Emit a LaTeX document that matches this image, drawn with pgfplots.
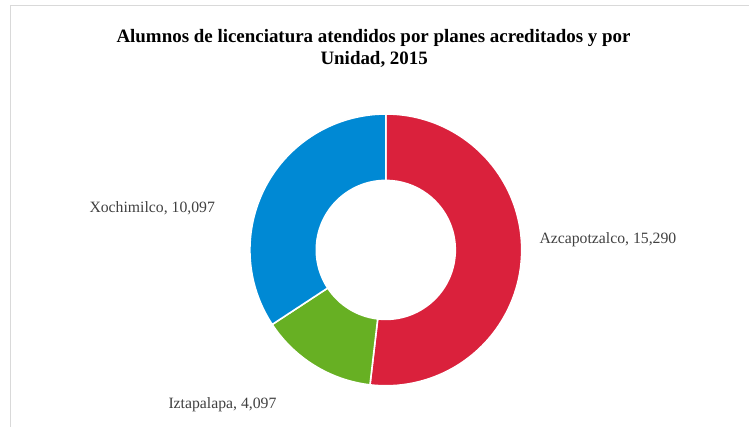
\documentclass[border=0pt]{standalone}
\usepackage{pgfplots}
\usepackage{pgfplotstable}
\pgfplotsset{compat=1.18}
\usepackage{fontspec}
\setmainfont{Liberation Serif}
\definecolor{cRed}{RGB}{218,33,60}
\definecolor{cGreen}{RGB}{103,176,35}
\definecolor{cBlue}{RGB}{0,137,212}
\definecolor{lblgray}{RGB}{64,64,64}
\definecolor{framegray}{RGB}{217,217,217}

\pgfplotstableread{
name value
Azcapotzalco 15290
Iztapalapa 4097
Xochimilco 10097
}\datatable
\pgfplotstablegetelem{0}{value}\of\datatable \let\vA\pgfplotsretval
\pgfplotstablegetelem{1}{value}\of\datatable \let\vB\pgfplotsretval
\pgfplotstablegetelem{2}{value}\of\datatable \let\vC\pgfplotsretval
\pgfmathsetmacro{\tot}{\vA/1000+\vB/1000+\vC/1000}
\pgfmathsetmacro{\aA}{90}
\pgfmathsetmacro{\aB}{\aA-360*(\vA/1000)/\tot}
\pgfmathsetmacro{\aC}{\aB-360*(\vB/1000)/\tot}
\pgfmathsetmacro{\aD}{\aC-360*(\vC/1000)/\tot}
\def\cx{385.8}
\def\cy{177.1}
\def\Ro{135.9}
\def\Ri{69.5}
\pgfmathsetmacro{\xAo}{\cx+\Ro*cos(\aA)}\pgfmathsetmacro{\yAo}{\cy+\Ro*sin(\aA)}
\pgfmathsetmacro{\xBo}{\cx+\Ro*cos(\aB)}\pgfmathsetmacro{\yBo}{\cy+\Ro*sin(\aB)}
\pgfmathsetmacro{\xCo}{\cx+\Ro*cos(\aC)}\pgfmathsetmacro{\yCo}{\cy+\Ro*sin(\aC)}
\pgfmathsetmacro{\xBi}{\cx+\Ri*cos(\aB)}\pgfmathsetmacro{\yBi}{\cy+\Ri*sin(\aB)}
\pgfmathsetmacro{\xCi}{\cx+\Ri*cos(\aC)}\pgfmathsetmacro{\yCi}{\cy+\Ri*sin(\aC)}
\pgfmathsetmacro{\xDi}{\cx+\Ri*cos(\aD)}\pgfmathsetmacro{\yDi}{\cy+\Ri*sin(\aD)}

\begin{document}
\begin{tikzpicture}
\begin{axis}[
  width=749bp, height=427bp, scale only axis,
  xmin=0, xmax=749, ymin=0, ymax=427,
  hide axis, clip=false]
\path (axis cs:0,0) rectangle (axis cs:749,427);
\begin{scope}
\clip (axis cs:0,0) rectangle (axis cs:749,427);
\draw[framegray, line width=1.2bp] (axis cs:10.8,-5) -- (axis cs:10.8,421.4) -- (axis cs:760,421.4);
\end{scope}
% Azcapotzalco
\fill[cRed, draw=white, line width=1.6bp] (axis cs:\xAo,\yAo) arc[start angle=\aA, end angle=\aB, radius=\Ro bp]
  -- (axis cs:\xBi,\yBi) arc[start angle=\aB, end angle=\aA, radius=\Ri bp] -- cycle;
% Iztapalapa
\fill[cGreen, draw=white, line width=1.6bp] (axis cs:\xBo,\yBo) arc[start angle=\aB, end angle=\aC, radius=\Ro bp]
  -- (axis cs:\xCi,\yCi) arc[start angle=\aC, end angle=\aB, radius=\Ri bp] -- cycle;
% Xochimilco
\fill[cBlue, draw=white, line width=1.6bp] (axis cs:\xCo,\yCo) arc[start angle=\aC, end angle=\aD, radius=\Ro bp]
  -- (axis cs:\xDi,\yDi) arc[start angle=\aD, end angle=\aC, radius=\Ri bp] -- cycle;
% title
\node[anchor=base, font=\fontsize{19}{22}\selectfont\bfseries] at (axis cs:373.5,384.3) {Alumnos de licenciatura atendidos por planes acreditados y por};
\node[anchor=base, font=\fontsize{19}{22}\selectfont\bfseries] at (axis cs:374.2,362.0) {Unidad, 2015};
% labels
\node[anchor=base west, inner sep=0pt, text=lblgray, font=\fontsize{15.8}{19}\selectfont] at (axis cs:539.3,183.0) {Azcapotzalco, 15,290};
\node[anchor=base west, inner sep=0pt, text=lblgray, font=\fontsize{15.8}{19}\selectfont] at (axis cs:89.3,214.7) {Xochimilco, 10,097};
\node[anchor=base west, inner sep=0pt, text=lblgray, font=\fontsize{15.8}{19}\selectfont] at (axis cs:168.3,18.7) {Iztapalapa, 4,097};
\end{axis}
\end{tikzpicture}
\end{document}
